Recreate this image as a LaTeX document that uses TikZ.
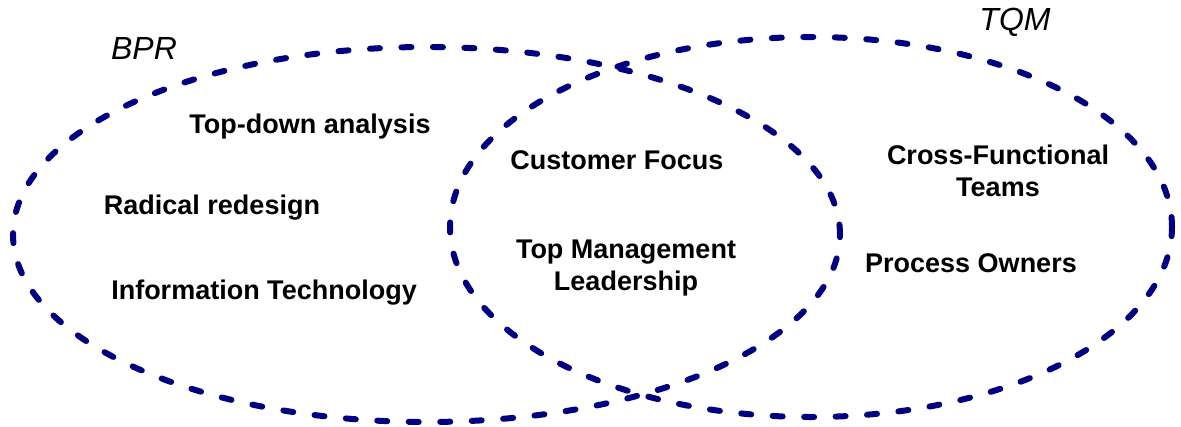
\documentclass[tikz,border=0pt]{standalone}
\usepackage{fontspec}
\setmainfont{Liberation Sans}
\usetikzlibrary{shapes.geometric}
\definecolor{setline}{RGB}{0,0,128}
\tikzset{
  setring/.style={draw=setline, ellipse, inner sep=0pt, line width=6pt,
    line cap=round, dash pattern=on 10pt off 21.5pt},
  item/.style={font=\fontsize{27}{32}\selectfont\bfseries, align=center,
    inner sep=0pt, text=black},
  setname/.style={font=\fontsize{32}{36}\selectfont\itshape, inner sep=0pt, text=black}
}
\begin{document}
\begin{tikzpicture}[x=1pt,y=-1pt]
  \useasboundingbox (0,0) rectangle (1181,426);
  % the two sets
  \node[setring, minimum width=827pt, minimum height=375pt] (bpr) at (426.5,234.5) {};
  \node[setring, minimum width=722pt, minimum height=380pt] (tqm) at (811,227) {};
  % set names
  \node[setname] (bprname) at (144,48) {BPR};
  \node[setname] (tqmname) at (1015,22) {TQM};
  % BPR only
  \node[item] (topdown) at (310,127) {Top-down analysis};
  \node[item] (radical) at (212,208) {Radical redesign};
  \node[item] (infotech) at (264,293) {Information Technology};
  % shared
  \node[item] (customer) at (617,160) {Customer Focus};
  \node[item] (topmgmt) at (626,268) {Top Management\\Leadership};
  % TQM only
  \node[item] (crossfn) at (998,171) {Cross-Functional\\Teams};
  \node[item] (owners) at (971,263) {Process Owners};
\end{tikzpicture}
\end{document}
